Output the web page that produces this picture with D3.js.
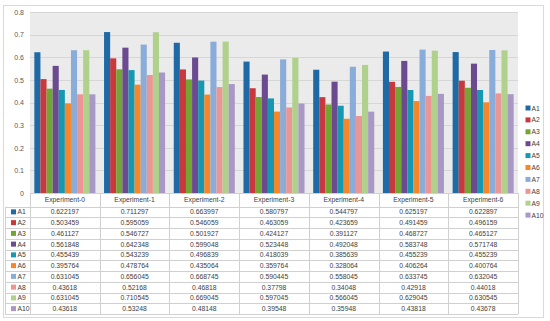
<!DOCTYPE html>
<html><head><meta charset="utf-8">
<script src="https://cdn.jsdelivr.net/npm/d3@7"></script>
<style>body{margin:0;background:#fff}svg{display:block}text{font-family:"Liberation Sans",Arial,sans-serif}</style>
</head><body><svg id="c" width="550" height="321"></svg>
<script>
const categories=["Experiment-0","Experiment-1","Experiment-2","Experiment-3","Experiment-4","Experiment-5","Experiment-6"];
const seriesNames=["A1","A2","A3","A4","A5","A6","A7","A8","A9","A10"];
const A1=[0.622197,0.711297,0.663997,0.580797,0.544797,0.625197,0.622897];
const A2=[0.503459,0.595059,0.546059,0.463059,0.423659,0.491459,0.496159];
const A3=[0.461127,0.546727,0.501927,0.424127,0.391127,0.468727,0.465127];
const A4=[0.561848,0.642348,0.599048,0.523448,0.492048,0.583748,0.571748];
const A5=[0.455439,0.543239,0.496839,0.418039,0.385639,0.455239,0.455239];
const A6=[0.395764,0.478764,0.435064,0.359764,0.328064,0.406264,0.400764];
const A7=[0.631045,0.656045,0.668745,0.590445,0.558045,0.633745,0.632045];
const A8=[0.43618,0.52168,0.46818,0.37798,0.34048,0.42918,0.44018];
const A9=[0.631045,0.710545,0.669045,0.597045,0.566045,0.629045,0.630545];
const A10=[0.43618,0.53248,0.48148,0.39548,0.35948,0.43818,0.43678];
const yTicks=[0,0.1,0.2,0.3,0.4,0.5,0.6,0.7,0.8];
const seriesValues=[A1,A2,A3,A4,A5,A6,A7,A8,A9,A10];
const colors=["#1f6aa5","#c8383c","#73a533","#6b4a90","#1598b0","#f5862a","#8aacd8","#ec9595","#afd18c","#a997c6"];

const svg=d3.select("#c");
const L=30,R=518,T=12,B=193;
svg.append("rect").attr("x",3.5).attr("y",5.5).attr("width",540).attr("height",312).attr("fill","#fff").attr("stroke","#d9d9d9");
svg.append("rect").attr("x",L).attr("y",T).attr("width",R-L).attr("height",B-T).attr("fill","#ebebeb");

const x=d3.scaleBand().domain(categories).range([L,R]).padding(0);
const xi=d3.scaleBand().domain(seriesNames).range([0,x.bandwidth()]).paddingInner(0).paddingOuter(0.71);
const y=d3.scaleLinear().domain([0,0.8]).range([B,T]);

// gridlines
svg.append("g").selectAll("line").data(yTicks.slice(1)).join("line")
  .attr("x1",L).attr("x2",R).attr("y1",d=>Math.round(y(d))+0.5).attr("y2",d=>Math.round(y(d))+0.5)
  .attr("stroke","#d6d6d6").attr("stroke-width",1);

// y axis labels
const yAxis=d3.axisLeft(y).tickValues(yTicks).tickSize(0).tickPadding(6).tickFormat(d=>d===0?"0":d3.format(".1f")(d));
const ga=svg.append("g").attr("transform",`translate(${L},0)`).call(yAxis);
ga.select(".domain").remove();
ga.selectAll("text").attr("fill","#595959").style("font-size","7px").style("font-family","Liberation Sans, Arial, sans-serif");

// bars
seriesValues.forEach((vals,si)=>{
  svg.append("g").selectAll("rect").data(vals).join("rect")
    .attr("x",(d,i)=>x(categories[i])+xi(seriesNames[si]))
    .attr("width",xi.bandwidth())
    .attr("y",d=>y(d)).attr("height",d=>B-y(d))
    .attr("fill",colors[si]);
});

// table
const hdrTop=B, hdrH=13.5, rowTop=hdrTop+hdrH, rowH=10.75;
const tBot=rowTop+rowH*seriesNames.length;
const tg=svg.append("g");
const lineCol="#d0d0d0";
// header top line
tg.append("line").attr("x1",L).attr("x2",R).attr("y1",B+0.5).attr("y2",B+0.5).attr("stroke",lineCol);
// row lines
d3.range(seriesNames.length+1).forEach(i=>{
  const yy=Math.round(rowTop+i*rowH)+0.5;
  tg.append("line").attr("x1",5).attr("x2",R).attr("y1",yy).attr("y2",yy).attr("stroke",lineCol);
});
// vertical lines
const bounds=categories.map(c=>x(c)).concat([R]);
bounds.forEach(bx=>{
  tg.append("line").attr("x1",Math.round(bx)+0.5).attr("x2",Math.round(bx)+0.5).attr("y1",B).attr("y2",Math.round(tBot)).attr("stroke",lineCol);
});
tg.append("line").attr("x1",5.5).attr("x2",5.5).attr("y1",Math.round(rowTop)).attr("y2",Math.round(tBot)).attr("stroke",lineCol);
// header text
tg.selectAll("text.h").data(categories).join("text").attr("class","h")
  .attr("x",c=>x(c)+x.bandwidth()/2).attr("y",hdrTop+hdrH/2+2.5)
  .attr("text-anchor","middle").attr("fill","#404040").style("font-size","6.8px").text(c=>c);
// rows
seriesNames.forEach((s,si)=>{
  const cy=rowTop+si*rowH+rowH/2;
  tg.append("rect").attr("x",11).attr("y",cy-2.5).attr("width",5).attr("height",5).attr("fill",colors[si]);
  tg.append("text").attr("x",17.5).attr("y",cy+2.5).attr("fill","#404040").style("font-size","6.8px").text(s);
  tg.selectAll("text.v"+si).data(seriesValues[si]).join("text")
    .attr("x",(d,i)=>x(categories[i])+x.bandwidth()/2).attr("y",cy+2.5)
    .attr("text-anchor","middle").attr("fill","#404040").style("font-size","6.8px").text(d=>String(d));
});

// legend
const lg=svg.append("g");
seriesNames.forEach((s,si)=>{
  const cy=108+si*11.9;
  lg.append("rect").attr("x",525.5).attr("y",cy-2.5).attr("width",5).attr("height",5).attr("fill",colors[si]);
  lg.append("text").attr("x",531.5).attr("y",cy+2.5).attr("fill","#404040").style("font-size","6.8px").text(s);
});
</script></body></html>
